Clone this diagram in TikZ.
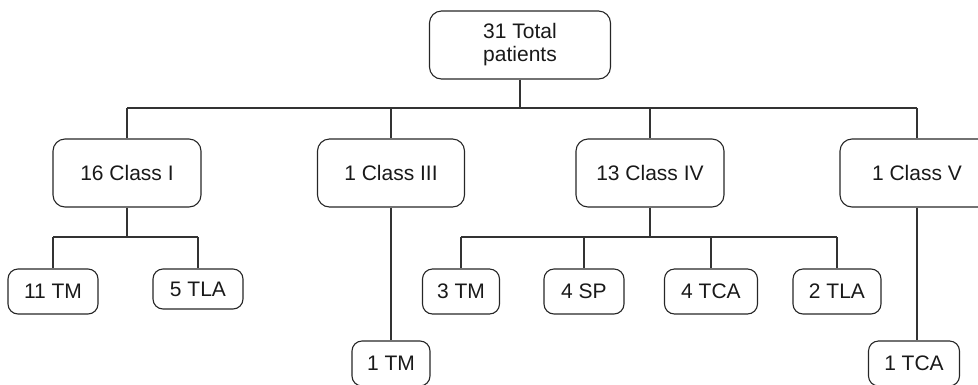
\documentclass[tikz,border=0pt]{standalone}
\usepackage{fontspec}
\setmainfont{Liberation Sans}
\begin{document}
\begin{tikzpicture}[x=1pt,y=-1pt,
  box/.style={draw=black!85, line width=1.1pt, rounded corners=12pt, inner sep=0pt, align=center, font=\fontsize{21}{23}\selectfont, text=black!90},
  big/.style={box, minimum width=148pt, minimum height=68pt},
  small/.style={box, rounded corners=10pt, minimum height=45pt},
  link/.style={draw=black!80, line width=1.1pt}]
\useasboundingbox (0,0) rectangle (978,384);
\clip (0,0) rectangle (978,384);
\node[box, minimum width=181pt, minimum height=68pt] (top) at (520,45) {31 Total\\patients};
\node[big] (c1) at (127,173) {16 Class I};
\node[big, minimum width=147pt] (c3) at (391,173) {1 Class III};
\node[big] (c4) at (650,173) {13 Class IV};
\node[big, minimum width=154pt] (c5) at (917,173) {1 Class V};
\node[small, minimum width=90pt] (tm11) at (53,291.5) {11 TM};
\node[small, minimum width=90pt, minimum height=40pt] (tla5) at (198,289) {5 TLA};
\node[small, minimum width=78pt] (tm1) at (391,363.5) {1 TM};
\node[small, minimum width=77pt] (tm3) at (461,291.5) {3 TM};
\node[small, minimum width=80pt] (sp4) at (584,291.5) {4 SP};
\node[small, minimum width=93pt] (tca4) at (711,291.5) {4 TCA};
\node[small, minimum width=88pt] (tla2) at (837,291.5) {2 TLA};
\node[small, minimum width=91pt] (tca1) at (914,363.5) {1 TCA};
\coordinate (hT) at (0,108);
\coordinate (h1) at (0,237);
\draw[link] (top.south) -- (top.south |- hT);
\draw[link] (c1.north |- hT) -- (c5.north |- hT);
\foreach \c in {c1,c3,c4,c5} \draw[link] (\c.north |- hT) -- (\c.north);
\draw[link] (c1.south) -- (c1.south |- h1);
\draw[link] (tm11.north |- h1) -- (tla5.north |- h1);
\foreach \c in {tm11,tla5} \draw[link] (\c.north |- h1) -- (\c.north);
\draw[link] (c3.south) -- (tm1.north);
\draw[link] (c4.south) -- (c4.south |- h1);
\draw[link] (tm3.north |- h1) -- (tla2.north |- h1);
\foreach \c in {tm3,sp4,tca4,tla2} \draw[link] (\c.north |- h1) -- (\c.north);
\draw[link] (c5.south) -- (c5.south |- tca1.north);
\end{tikzpicture}
\end{document}
